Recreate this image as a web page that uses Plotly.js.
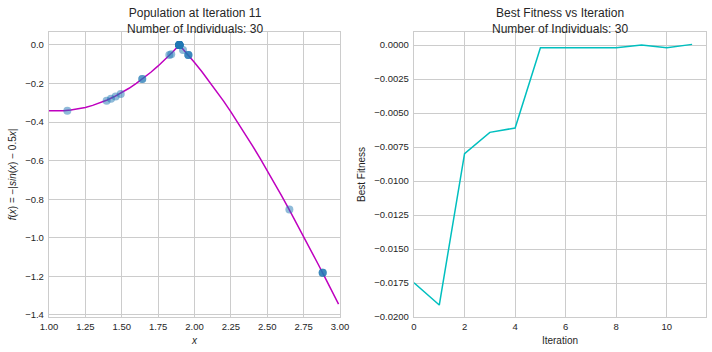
<!DOCTYPE html>
<html>
<head>
<meta charset="utf-8">
<script src="https://cdn.plot.ly/plotly-3.0.1.min.js"></script>
<style>html,body{margin:0;padding:0;background:#fff;}#chart{width:712px;height:352px;}</style>
</head>
<body>
<div id="chart"></div>
<script>
// Left panel: objective curve
const curveX = [1.00,1.05,1.10,1.15,1.20,1.25,1.30,1.35,1.40,1.45,1.50,1.55,1.60,1.65,1.70,1.75,1.80,1.85,1.8955,1.90,1.95,2.00,2.05,2.10,2.15,2.20,2.25,2.30,2.35,2.40,2.45,2.50,2.55,2.60,2.65,2.70,2.75,2.80,2.85,2.90,2.95,2.99];
const curveY = [-0.3415,-0.3424,-0.3412,-0.3378,-0.3320,-0.3240,-0.3136,-0.3007,-0.2854,-0.2677,-0.2475,-0.2248,-0.1996,-0.1719,-0.1417,-0.1090,-0.0738,-0.0363,0.0000,-0.0037,-0.0460,-0.0907,-0.1376,-0.1868,-0.2381,-0.2915,-0.3469,-0.4043,-0.4635,-0.5245,-0.5872,-0.6515,-0.7173,-0.7845,-0.8530,-0.9226,-0.9933,-1.0650,-1.1375,-1.2108,-1.2846,-1.3440];

// Population of 30 individuals at iteration 11
const popX = [1.126,1.396,1.426,1.458,1.493,1.641,1.641,1.827,1.840,
  1.896,1.896,1.896,1.896,1.896,1.896,1.896,1.896,1.896,1.896,1.896,1.896,1.896,
  1.921,1.958,1.958,1.958,2.652,2.881,2.881,2.881];
const popY = [-0.341,-0.289,-0.279,-0.268,-0.255,-0.177,-0.177,-0.052,-0.048,
  0.000,0.000,0.000,0.000,0.000,0.000,0.000,0.000,0.000,0.000,0.000,0.000,0.000,
  -0.026,-0.052,-0.052,-0.052,-0.854,-1.182,-1.182,-1.182];

// Right panel: best fitness per iteration
const iterations = [0,1,2,3,4,5,6,7,8,9,10,11];
const bestFitness = [-0.01748,-0.01912,-0.00799,-0.00642,-0.00610,-0.00020,-0.00020,-0.00020,-0.00020,0.00000,-0.00020,0.00005];

const leftTitle = "Population at Iteration 11<br>Number of Individuals: 30";
const rightTitle = "Best Fitness vs Iteration<br>Number of Individuals: 30";

const txt = "#262626";
const grid = "#cccccc";
const fam = "Liberation Sans, Arial, sans-serif";

const data = [
  {x: curveX, y: curveY, type: "scatter", mode: "lines", line: {color: "#bf00bf", width: 1.5}, xaxis: "x", yaxis: "y", hoverinfo: "skip"},
  {x: popX, y: popY, type: "scatter", mode: "markers", marker: {color: "rgba(31,119,180,0.5)", size: 8, line: {width: 0}}, xaxis: "x", yaxis: "y"},
  {x: iterations, y: bestFitness, type: "scatter", mode: "lines", line: {color: "#00bfbf", width: 1.5}, xaxis: "x2", yaxis: "y2"}
];

const axBase = {
  showgrid: true, gridcolor: grid, gridwidth: 1,
  showline: true, linecolor: grid, linewidth: 1.2, mirror: true,
  zeroline: false, ticks: "", ticklen: 0,
  tickfont: {family: fam, size: 9.5, color: txt},
  automargin: false
};

const layout = {
  width: 712, height: 352,
  margin: {l: 0, r: 0, t: 0, b: 0},
  paper_bgcolor: "#fff", plot_bgcolor: "#fff",
  showlegend: false,
  font: {family: fam, color: txt},
  xaxis: Object.assign({}, axBase, {domain: [49/712, 340/712], range: [1, 3], dtick: 0.25, tick0: 1, tickformat: ".2f", anchor: "y",
    title: {text: "<i>x</i>", font: {family: fam, size: 10, color: txt}, standoff: 6}}),
  yaxis: Object.assign({}, axBase, {domain: [35/352, 320/352], range: [-1.411, 0.067], dtick: 0.2, tick0: 0, tickformat: ".1f", anchor: "x", ticklabelstandoff: 2,
    title: {text: "<i>f</i>(<i>x</i>) = −|<i>sin</i>(<i>x</i>) − 0.5<i>x</i>|", font: {family: fam, size: 10, color: txt}, standoff: 6}}),
  xaxis2: Object.assign({}, axBase, {domain: [414/712, 706/712], range: [0, 11.55], dtick: 2, tick0: 0, anchor: "y2",
    title: {text: "Iteration", font: {family: fam, size: 10, color: txt}, standoff: 6}}),
  yaxis2: Object.assign({}, axBase, {domain: [35/352, 320/352], range: [-0.0200, 0.00096], dtick: 0.0025, tick0: 0, tickformat: ".4f", anchor: "x2", ticklabelstandoff: 2,
    title: {text: "Best Fitness", font: {family: fam, size: 10, color: txt}, standoff: 6}}),
  annotations: [
    {text: leftTitle, xref: "paper", yref: "paper", x: 194.5/712, y: 1 - 4/352, xanchor: "center", yanchor: "top", showarrow: false, font: {family: fam, size: 12, color: txt}},
    {text: rightTitle, xref: "paper", yref: "paper", x: 560/712, y: 1 - 4/352, xanchor: "center", yanchor: "top", showarrow: false, font: {family: fam, size: 12, color: txt}}
  ]
};

Plotly.newPlot("chart", data, layout, {displayModeBar: false, staticPlot: true});
</script>
</body>
</html>
